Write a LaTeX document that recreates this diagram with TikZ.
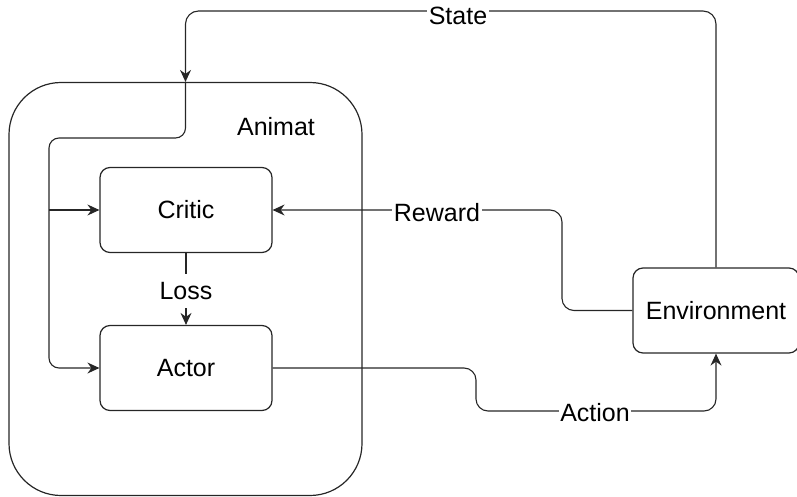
\documentclass[tikz,border=0pt]{standalone}
\usepackage{fontspec}
\setmainfont{Liberation Sans}
\usetikzlibrary{arrows.meta}
\begin{document}
\begin{tikzpicture}[x=1pt,y=-1pt,
  every node/.style={font=\fontsize{25}{30}\selectfont},
  box/.style={draw=black!85,line width=1.2pt,rounded corners=10pt,
    minimum width=172pt,minimum height=85pt,inner sep=0pt},
  conn/.style={draw=black!85,line width=1.1pt},
  tip/.style={-{Stealth[length=12pt,width=11pt,inset=4pt]}},
  lbl/.style={fill=white,inner xsep=1.5pt,inner ysep=8pt}]
\useasboundingbox (0,0) rectangle (797,497);

% outer agent container
\node[draw=black!85,line width=1.2pt,rounded corners=52pt,minimum width=353pt,
  minimum height=413pt,inner sep=0pt] (animat) at (185.5,289) {};
\node (animatlbl) at (276,127) {Animat};

% blocks
\node[box] (critic) at (186,210) {Critic};
\node[box] (actor) at (186,368) {Actor};
\node[box,minimum width=166pt] (env) at (716,310.5) {Environment};

% routing helpers
\coordinate (stTop) at (0,11);
\coordinate (inTop) at (0,138);
\coordinate (inLeft) at (49,0);
\coordinate (rwX) at (562,0);
\coordinate (acX) at (476,0);
\coordinate (acBot) at (0,411);

% state feedback
\draw[conn,tip,rounded corners=13pt] (env.north) -- (env.north |- stTop)
  -- (animat.north |- stTop) -- (animat.north);
\node[lbl] (statelbl) at (458,16) {State};

% state distributed inside the agent
\draw[conn,tip,rounded corners=10pt] (animat.north) -- (animat.north |- inTop)
  -- (inLeft |- inTop) -- (inLeft |- actor.west) -- (actor.west);
\draw[conn,tip] (inLeft |- critic.west) -- (critic.west);

% reward
\draw[conn,tip,rounded corners=12pt] (env.west) -- (rwX |- env.west)
  -- (rwX |- critic.east) -- (critic.east);
\node[lbl] (rewardlbl) at (437,212.5) {Reward};

% loss
\draw[conn,tip] (critic.south) -- (actor.north)
  node[lbl,midway,yshift=-2pt] (losslbl) {Loss};

% action
\draw[conn,tip,rounded corners=12pt] (actor.east) -- (acX |- actor.east)
  -- (acX |- acBot) -- (env.south |- acBot) -- (env.south);
\node[lbl] (actionlbl) at (595,413) {Action};
\end{tikzpicture}
\end{document}
